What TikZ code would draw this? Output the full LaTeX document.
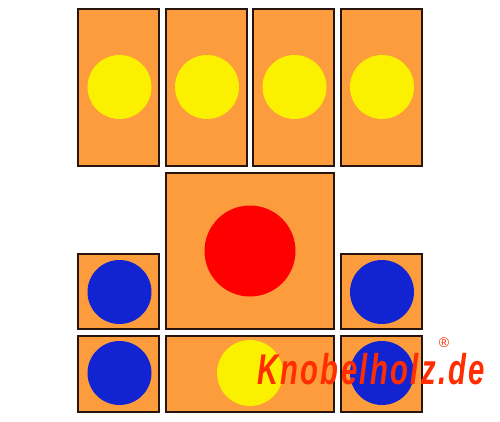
\documentclass[tikz,border=0pt]{standalone}
\usepackage{fontspec}
\setmainfont{Liberation Sans}
\definecolor{blockfill}{RGB}{252,156,60}
\definecolor{blockedge}{RGB}{40,20,15}
\definecolor{yel}{RGB}{250,240,0}
\definecolor{redball}{RGB}{255,0,0}
\definecolor{blueball}{RGB}{18,36,210}
\definecolor{logo}{RGB}{255,45,0}
\begin{document}
\begin{tikzpicture}[x=1pt,y=-1pt,
  block/.style={fill=blockfill,draw=blockedge,line width=2.6pt},
  ball/.style={circle,inner sep=0pt,minimum size=#1}]
\useasboundingbox (0,0) rectangle (500,422);
\fill[white] (0,0) rectangle (500,422);
% top row
\draw[block] (78,9) rectangle (159,166);
\draw[block] (166,9) rectangle (247,166);
\draw[block] (253,9) rectangle (334,166);
\draw[block] (341,9) rectangle (422,166);
% big block
\draw[block] (166,173) rectangle (334,329);
% small blocks
\draw[block] (78,254) rectangle (159,329);
\draw[block] (341,254) rectangle (422,329);
\draw[block] (78,336) rectangle (159,412);
\draw[block] (341,336) rectangle (422,412);
% bottom horizontal block
\draw[block] (166,336) rectangle (334,412);
% balls
\node[ball=64pt,fill=yel] (y1) at (119.5,87) {};
\node[ball=64pt,fill=yel] (y2) at (207,87) {};
\node[ball=64pt,fill=yel] (y3) at (294.5,87) {};
\node[ball=64pt,fill=yel] (y4) at (382,87) {};
\node[ball=91pt,fill=redball] (r) at (250,251) {};
\node[ball=64pt,fill=blueball] (b1) at (119.5,292) {};
\node[ball=64pt,fill=blueball] (b2) at (382,292) {};
\node[ball=64pt,fill=blueball] (b3) at (119.5,373) {};
\node[ball=64pt,fill=blueball] (b4) at (382,373) {};
\node[ball=66pt,fill=yel] (y5) at (250,373) {};
% logo
\node[anchor=base west,inner sep=0pt,text height=30pt,text depth=0pt,text=logo,
  font=\fontsize{43}{43}\selectfont\bfseries\itshape\addfontfeature{LetterSpace=8},xscale=0.68] (logo) at (257,384) {Knobelholz.de};
\node[inner sep=0pt,text height=8pt,text depth=0pt,text=logo,font=\fontsize{14}{14}\selectfont] (reg) at (444,343) {®};
\end{tikzpicture}
\end{document}
